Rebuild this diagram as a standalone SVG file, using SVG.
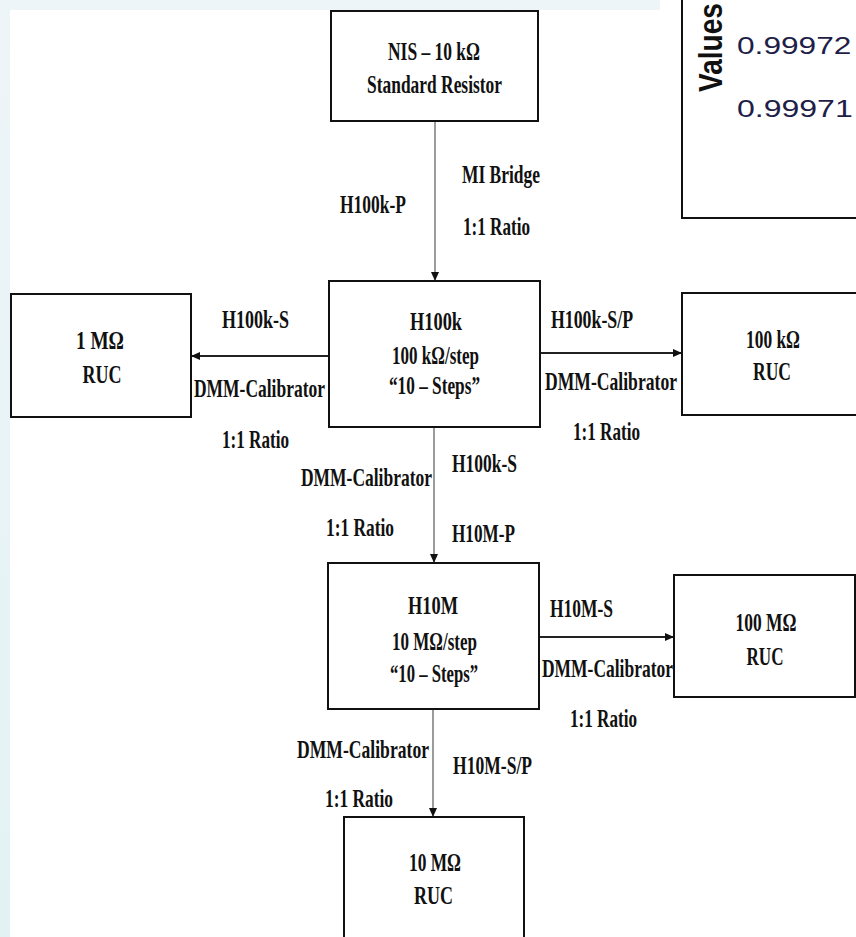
<svg xmlns="http://www.w3.org/2000/svg" width="856" height="937" viewBox="0 0 856 937">
<style>
.box{fill:#fff;stroke:#111;stroke-width:2}
.t{font-family:"Liberation Serif","Times New Roman",serif;font-weight:bold;font-size:18px;fill:#111}
.c{text-anchor:middle}
.v{stroke:#666;stroke-width:1.3;fill:none}
.h{stroke:#222;stroke-width:1.8;fill:none}
.num{font-family:"Liberation Sans",Arial,sans-serif;font-size:23px;fill:#1e1e48}
</style>
<defs>
<linearGradient id="bg" x1="0" y1="0" x2="0" y2="1">
<stop offset="0" stop-color="#eef5f8"/>
<stop offset="1" stop-color="#e2f2f3"/>
</linearGradient>
<marker id="ah" markerUnits="userSpaceOnUse" markerWidth="9" markerHeight="8" refX="9" refY="4" orient="auto">
<path d="M0,0 L9,4 L0,8 z" fill="#111"/>
</marker>
</defs>
<rect x="0" y="0" width="856" height="937" fill="url(#bg)"/>
<rect x="10" y="10" width="846" height="927" fill="#fff"/>
<rect x="660" y="0" width="196" height="12" fill="#fff"/>

<g id="chart">
<rect x="682" y="-5" width="180" height="223" fill="#fff" stroke="#111" stroke-width="2"/>
<text transform="translate(722,92) rotate(-90) scale(1,1.2)" font-family="Liberation Sans,Arial,sans-serif" font-weight="bold" font-size="28" fill="#111" textLength="89" lengthAdjust="spacingAndGlyphs">Values</text>
<text class="num" transform="translate(737,54) scale(1.3,1)" textLength="88" lengthAdjust="spacingAndGlyphs">0.99972</text>
<text class="num" transform="translate(737,117) scale(1.3,1)" textLength="89" lengthAdjust="spacingAndGlyphs">0.99971</text>
</g>

<g id="connectors">
<line class="v" x1="435" y1="121" x2="435" y2="281" marker-end="url(#ah)"/>
<line class="h" x1="329" y1="356" x2="191" y2="356" marker-end="url(#ah)"/>
<line class="h" x1="540" y1="353" x2="682" y2="353" marker-end="url(#ah)"/>
<line class="v" x1="434" y1="427" x2="434" y2="563" marker-end="url(#ah)"/>
<line class="h" x1="539" y1="637" x2="674" y2="637" marker-end="url(#ah)"/>
<line class="v" x1="433" y1="710" x2="433" y2="817" marker-end="url(#ah)"/>
</g>

<g id="labels">
<text class="t" transform="translate(462,183) scale(1,1.35)" textLength="78" lengthAdjust="spacingAndGlyphs">MI Bridge</text>
<text class="t" transform="translate(463,235) scale(1,1.35)" textLength="67" lengthAdjust="spacingAndGlyphs">1:1 Ratio</text>
<text class="t" transform="translate(340,213) scale(1,1.35)" textLength="66" lengthAdjust="spacingAndGlyphs">H100k-P</text>
<text class="t" transform="translate(222,328) scale(1,1.35)" textLength="67" lengthAdjust="spacingAndGlyphs">H100k-S</text>
<text class="t" transform="translate(194,397) scale(1,1.35)" textLength="131" lengthAdjust="spacingAndGlyphs">DMM-Calibrator</text>
<text class="t" transform="translate(222,448) scale(1,1.35)" textLength="67" lengthAdjust="spacingAndGlyphs">1:1 Ratio</text>
<text class="t" transform="translate(551,328) scale(1,1.35)" textLength="82" lengthAdjust="spacingAndGlyphs">H100k-S/P</text>
<text class="t" transform="translate(545,390) scale(1,1.35)" textLength="132" lengthAdjust="spacingAndGlyphs">DMM-Calibrator</text>
<text class="t" transform="translate(573,440) scale(1,1.35)" textLength="67" lengthAdjust="spacingAndGlyphs">1:1 Ratio</text>
<text class="t" transform="translate(301,486) scale(1,1.35)" textLength="131" lengthAdjust="spacingAndGlyphs">DMM-Calibrator</text>
<text class="t" transform="translate(326,536) scale(1,1.35)" textLength="68" lengthAdjust="spacingAndGlyphs">1:1 Ratio</text>
<text class="t" transform="translate(452,472) scale(1,1.35)" textLength="65" lengthAdjust="spacingAndGlyphs">H100k-S</text>
<text class="t" transform="translate(452,542) scale(1,1.35)" textLength="63" lengthAdjust="spacingAndGlyphs">H10M-P</text>
<text class="t" transform="translate(550,617) scale(1,1.35)" textLength="63" lengthAdjust="spacingAndGlyphs">H10M-S</text>
<text class="t" transform="translate(542,677) scale(1,1.35)" textLength="131" lengthAdjust="spacingAndGlyphs">DMM-Calibrator</text>
<text class="t" transform="translate(570,727) scale(1,1.35)" textLength="67" lengthAdjust="spacingAndGlyphs">1:1 Ratio</text>
<text class="t" transform="translate(297,758) scale(1,1.35)" textLength="132" lengthAdjust="spacingAndGlyphs">DMM-Calibrator</text>
<text class="t" transform="translate(453,774) scale(1,1.35)" textLength="79" lengthAdjust="spacingAndGlyphs">H10M-S/P</text>
<text class="t" transform="translate(325,807) scale(1,1.35)" textLength="68" lengthAdjust="spacingAndGlyphs">1:1 Ratio</text>
</g>

<g id="nis">
<rect class="box" x="331" y="11" width="207" height="110"/>
<text class="t c" transform="translate(434,60) scale(1,1.35)" textLength="92" lengthAdjust="spacingAndGlyphs">NIS – 10 kΩ</text>
<text class="t c" transform="translate(434.5,93) scale(1,1.35)" textLength="135" lengthAdjust="spacingAndGlyphs">Standard Resistor</text>
</g>

<g id="h100k">
<rect class="box" x="329" y="281" width="211" height="146"/>
<text class="t c" transform="translate(436,330) scale(1,1.35)" textLength="52" lengthAdjust="spacingAndGlyphs">H100k</text>
<text class="t c" transform="translate(435.5,364) scale(1,1.35)" textLength="87" lengthAdjust="spacingAndGlyphs">100 kΩ/step</text>
<text class="t c" transform="translate(434.5,394) scale(1,1.35)" textLength="91" lengthAdjust="spacingAndGlyphs">“10 – Steps”</text>
</g>

<g id="r1m">
<rect class="box" x="11" y="294" width="180" height="123"/>
<text class="t c" transform="translate(100,349) scale(1,1.35)" textLength="48" lengthAdjust="spacingAndGlyphs">1 MΩ</text>
<text class="t c" transform="translate(102,383) scale(1,1.35)" textLength="39" lengthAdjust="spacingAndGlyphs">RUC</text>
</g>

<g id="r100k">
<rect class="box" x="682" y="293" width="178" height="122"/>
<text class="t c" transform="translate(773,348) scale(1,1.35)" textLength="54" lengthAdjust="spacingAndGlyphs">100 kΩ</text>
<text class="t c" transform="translate(772,380) scale(1,1.35)" textLength="38" lengthAdjust="spacingAndGlyphs">RUC</text>
</g>

<g id="h10m">
<rect class="box" x="328" y="563" width="211" height="146"/>
<text class="t c" transform="translate(433,614) scale(1,1.35)" textLength="50" lengthAdjust="spacingAndGlyphs">H10M</text>
<text class="t c" transform="translate(434.5,650) scale(1,1.35)" textLength="85" lengthAdjust="spacingAndGlyphs">10 MΩ/step</text>
<text class="t c" transform="translate(434,682) scale(1,1.35)" textLength="88" lengthAdjust="spacingAndGlyphs">“10 – Steps”</text>
</g>

<g id="r100m">
<rect class="box" x="674" y="575" width="181" height="122"/>
<text class="t c" transform="translate(766,631) scale(1,1.35)" textLength="61" lengthAdjust="spacingAndGlyphs">100 MΩ</text>
<text class="t c" transform="translate(765,665) scale(1,1.35)" textLength="37" lengthAdjust="spacingAndGlyphs">RUC</text>
</g>

<g id="r10m">
<rect class="box" x="344" y="817" width="180" height="125"/>
<text class="t c" transform="translate(435,871) scale(1,1.35)" textLength="52" lengthAdjust="spacingAndGlyphs">10 MΩ</text>
<text class="t c" transform="translate(433.5,904) scale(1,1.35)" textLength="39" lengthAdjust="spacingAndGlyphs">RUC</text>
</g>
</svg>
